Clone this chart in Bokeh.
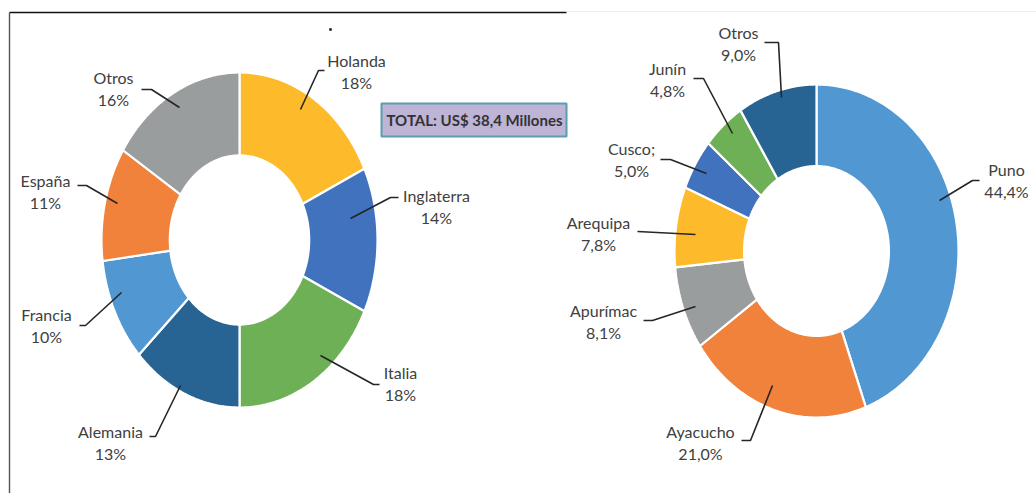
import numpy as np
from bokeh.plotting import figure
from bokeh.models import Range1d
from bokeh.core.properties import value
from bokeh.embed import file_html
from bokeh.resources import INLINE

# ---------------- data ----------------
left_labels = ["Holanda", "Inglaterra", "Italia", "Alemania", "Francia", "España", "Otros"]
left_values = [18, 14, 18, 13, 10, 11, 16]
left_colors = ["#FDBB2B", "#4172BE", "#6DB055", "#276493", "#5197D2", "#F0823C", "#9A9D9D"]

right_labels = ["Puno", "Ayacucho", "Apurímac", "Arequipa", "Cusco;", "Junín", "Otros"]
right_values = [44.4, 21.0, 8.1, 7.8, 5.0, 4.8, 9.0]
right_colors = ["#5197D2", "#F0823C", "#9A9D9D", "#FDBB2B", "#4172BE", "#6DB055", "#276493"]

total_text = "TOTAL: US$ 38,4 Millones"

# ---------------- layout (page pixel coordinates) ----------------
LEFT_DONUT = dict(cx=239, cy=239.5, rx=138, ry=167.5, hole=0.505)
RIGHT_DONUT = dict(cx=816, cy=250.5, rx=142, ry=166.5, hole=0.51)

left_label_pos = {
    "Holanda": ((356, 60), [(300, 109), (318, 70), (324, 70)]),
    "Inglaterra": ((436, 195), [(350, 218), (390, 197), (398, 197)]),
    "Italia": ((400, 372), [(320, 355), (373, 384), (379, 384)]),
    "Alemania": ((110, 431), [(180, 385), (155, 436), (149, 436)]),
    "Francia": ((46, 314), [(121, 292), (85, 325), (79, 325)]),
    "España": ((45, 180), [(117, 203), (86, 185), (77, 185)]),
    "Otros": ((113, 77), [(179, 107), (151, 89), (141, 89)]),
}
right_label_pos = {
    "Puno": ((1006, 169), [(939, 200), (972, 180), (979, 180)]),
    "Ayacucho": ((700, 431), [(772, 385), (750, 440), (741, 440)]),
    "Apurímac": ((603, 310), [(695, 306), (652, 320), (643, 320)]),
    "Arequipa": ((598, 222), [(695, 234), (637, 231)]),
    "Cusco;": ((631, 148), [(706, 173), (670, 159), (660, 159)]),
    "Junín": ((667, 68), [(732, 133), (703, 78), (693, 78)]),
    "Otros": ((738, 32), [(781, 97), (778, 42), (764, 42)]),
}
LINE_GAP = 21.5
FONT = value("Lato")
FONT_SIZE = "16px"
TEXT_COLOR = "#404040"

W, H = 1036, 493
p = figure(width=W, height=H, x_range=Range1d(0, W), y_range=Range1d(H, 0),
           output_backend="svg", toolbar_location=None, min_border=0)
p.xaxis.visible = False
p.yaxis.visible = False
p.xgrid.visible = False
p.ygrid.visible = False
p.outline_line_color = None
p.background_fill_color = "white"
p.border_fill_color = "white"


def donut(labels, values, colors, geo, pos, fmt):
    vals = np.array(values, dtype=float)
    frac = vals / vals.sum()
    edges = np.concatenate([[0], np.cumsum(frac)]) * 2 * np.pi
    xs, ys = [], []
    for a0, a1 in zip(edges[:-1], edges[1:]):
        t = np.linspace(a0, a1, 80)
        ox = geo["cx"] + geo["rx"] * np.sin(t)
        oy = geo["cy"] - geo["ry"] * np.cos(t)
        ix = geo["cx"] + geo["rx"] * geo["hole"] * np.sin(t[::-1])
        iy = geo["cy"] - geo["ry"] * geo["hole"] * np.cos(t[::-1])
        xs.append(np.concatenate([ox, ix]).tolist())
        ys.append(np.concatenate([oy, iy]).tolist())
    p.patches(xs=xs, ys=ys, fill_color=colors, line_color="white", line_width=2.2)

    lxs, lys, nx, ny, ntext, vx, vy, vtext = [], [], [], [], [], [], [], []
    for lab, v in zip(labels, values):
        (px, py), path = pos[lab]
        lxs.append([q[0] for q in path])
        lys.append([q[1] for q in path])
        nx.append(px); ny.append(py); ntext.append(lab)
        vx.append(px); vy.append(py + LINE_GAP); vtext.append(fmt(v))
    p.multi_line(xs=lxs, ys=lys, line_color="#262626", line_width=1.6)
    p.text(x=nx, y=ny, text=ntext, text_font=FONT, text_font_size=FONT_SIZE,
           text_color=TEXT_COLOR, text_align="center", text_baseline="middle")
    p.text(x=vx, y=vy, text=vtext, text_font=FONT, text_font_size=FONT_SIZE,
           text_color=TEXT_COLOR, text_align="center", text_baseline="middle")


donut(left_labels, left_values, left_colors, LEFT_DONUT, left_label_pos,
      lambda v: f"{v:.0f}%")
donut(right_labels, right_values, right_colors, RIGHT_DONUT, right_label_pos,
      lambda v: f"{v:.1f}%".replace(".", ","))

# frame lines of the left panel
p.line(x=[9, 566], y=[12, 12], line_color="#111111", line_width=1.6)
p.line(x=[9, 9], y=[12, 493], line_color="#555555", line_width=1.4)
p.line(x=[566, 1036], y=[11, 11], line_color="#EEEEEE", line_width=1)
p.rect(x=[330], y=[29], width=2.5, height=2.5, fill_color="#111111", line_color=None)

# total box
p.quad(left=[381], right=[566], top=[103], bottom=[136], fill_color="#BEB4D6",
       line_color="#5B9DB0", line_width=2)
p.text(x=[474], y=[119.5], text=[total_text], text_font=FONT, text_font_size="15px",
       text_font_style="bold", text_color="#333333", text_align="center",
       text_baseline="middle")

open("out.html", "w").write(file_html(p, INLINE))
